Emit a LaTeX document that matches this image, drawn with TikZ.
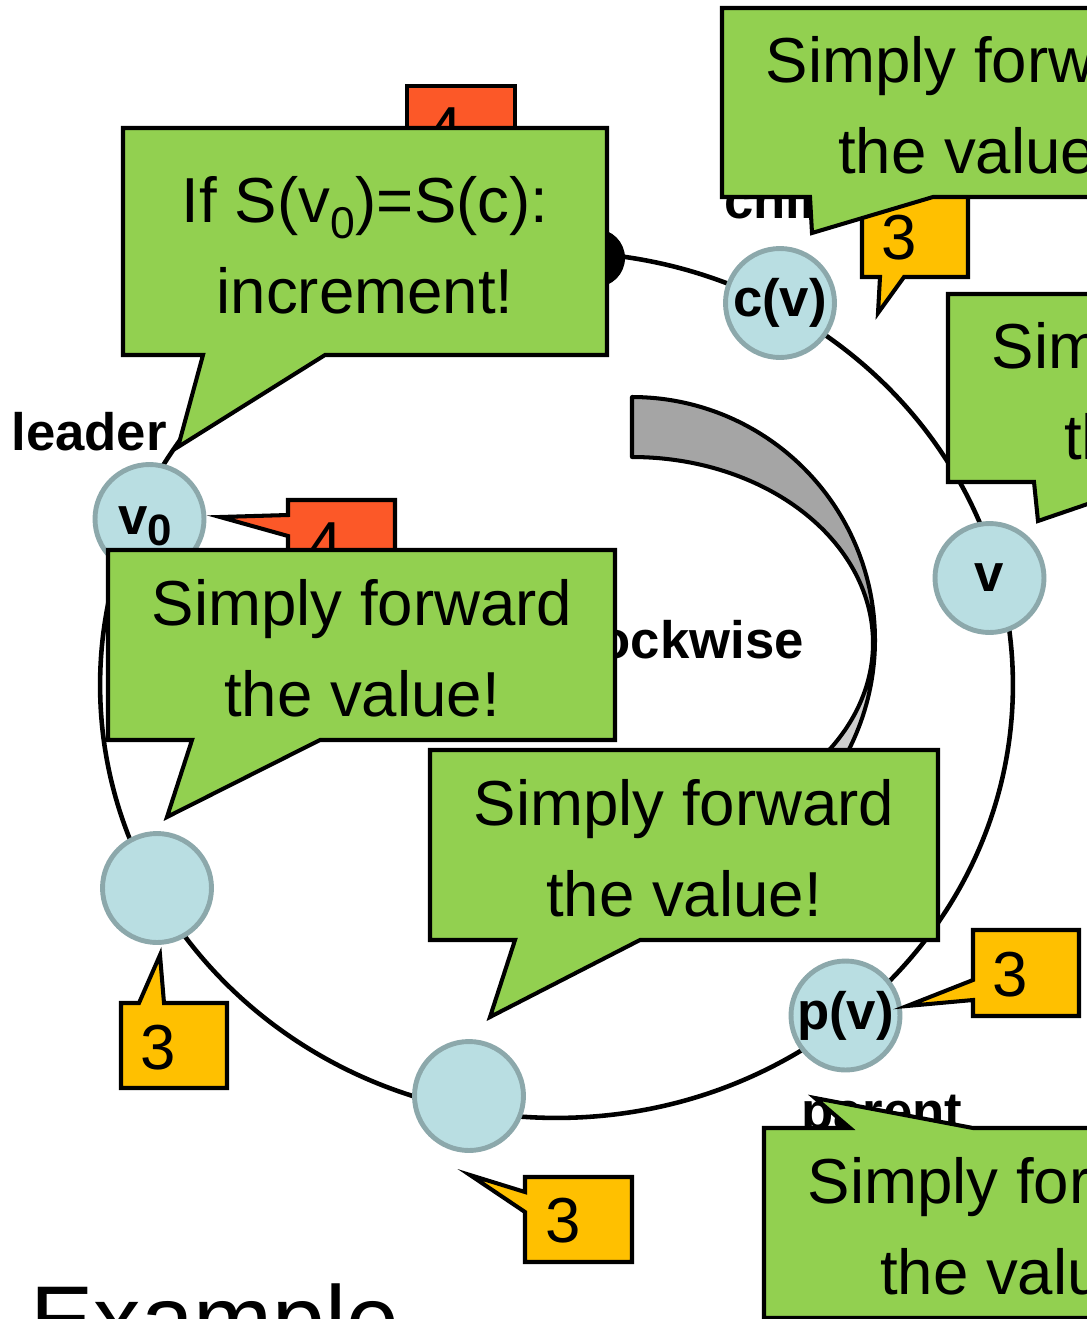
\documentclass[tikz,border=0pt]{standalone}
\usepackage{fontspec}
\setmainfont{Liberation Sans}
\definecolor{saygreen}{HTML}{92D050}
\definecolor{tagyellow}{HTML}{FFC000}
\definecolor{tagorange}{HTML}{FC5828}
\definecolor{ringfill}{HTML}{B9DEE2}
\definecolor{ringedge}{HTML}{8CA8AB}
\definecolor{arrowdark}{HTML}{A5A5A5}
\definecolor{arrowlight}{HTML}{CFCFCF}
\begin{document}
\begin{tikzpicture}[x=0.02cm,y=-0.02cm,
  ringline/.style={draw=black, line width=2.6pt},
  proc/.style={circle, fill=ringfill, draw=ringedge, line width=2.8pt,
    minimum size=2.18cm, inner sep=0pt,
    font=\bfseries\fontsize{30}{32}\selectfont},
  lbl/.style={inner sep=0pt, font=\bfseries\fontsize{30}{32}\selectfont},
  bubble/.style={fill=saygreen, draw=black, line width=2.3pt},
  tagy/.style={fill=tagyellow, draw=black, line width=2.3pt},
  tago/.style={fill=tagorange, draw=black, line width=2.3pt},
  saytext/.style={anchor=base, inner sep=0pt, font=\fontsize{36.2}{40}\selectfont},
  numtext/.style={inner sep=0pt, font=\fontsize{36.2}{40}\selectfont},
  band/.style={draw=black, line width=2.3pt, line join=round}]
\clip (0,0) rectangle (1087,1319);

% the ring
\draw[ringline] (556.5,685) ellipse [x radius=9.13cm, y radius=8.66cm];
\fill (596,258) circle [radius=0.58cm];

% twisted clockwise arrow
\filldraw[band, fill=arrowlight]
  plot[domain=0:45, samples=30, smooth] ({632+243*cos(\x)},{640+243*sin(\x)})
  -- plot[domain=45:0, samples=30, smooth] ({632+241*cos(\x)},{643+186*sin(\x)}) -- cycle;
\filldraw[band, fill=arrowdark]
  plot[domain=-90:0, samples=40, smooth] ({632+243*cos(\x)},{640+243*sin(\x)})
  -- plot[domain=0:-90, samples=40, smooth] ({632+241*cos(\x)},{643+186*sin(\x)}) -- cycle;

% labels
\node[lbl, anchor=base east] (cw) at (804,658) {clockwise};
\node[lbl, anchor=base west] (lead) at (11,450) {leader};
\node[lbl, anchor=base west] (chd) at (724,218) {child};
\node[lbl, anchor=base west] (par) at (801,1129) {parent};

% processes on the ring
\node[proc] (v0) at (149.5,519) {};
\node[lbl, anchor=base west] (v0t) at (118,534) {v\raisebox{-0.42ex}{\fontsize{25}{25}\selectfont 0}};
\node[proc] (cv) at (780,303) {c(v)};
\node[proc] (v) at (989.5,578) {v};
\node[proc] (pv) at (845.5,1015.5) {p(v)};
\node[proc] (u1) at (157,888) {};
\node[proc] (u2) at (469,1096) {};

% value tags
\filldraw[tago] (407,86) -- (515,86) -- (515,172) -- (407,172) -- cycle;
\node[numtext] (o1) at (445,130) {4};
\filldraw[tago] (288,500) -- (395,500) -- (395,585) -- (288,585) -- (288,536)
  -- (220,517) -- (288,515) -- cycle;
\node[numtext] (o2) at (325,545) {4};

\filldraw[tagy] (862,190) -- (968,190) -- (968,277) -- (904,277) -- (878,313)
  -- (880,277) -- (862,277) -- cycle;
\node[numtext] (y1) at (899,238) {3};
\filldraw[tagy] (973,930) -- (1079,930) -- (1079,1016) -- (973,1016) -- (973,1000)
  -- (907,1006) -- (973,980) -- cycle;
\node[numtext] (y2) at (1010,975) {3};
\filldraw[tagy] (121,1003) -- (139,1003) -- (160,955) -- (164,1003) -- (227,1003)
  -- (227,1088) -- (121,1088) -- cycle;
\node[numtext] (y3) at (158,1048) {3};
\filldraw[tagy] (525,1177) -- (632,1177) -- (632,1262) -- (525,1262) -- (525,1212)
  -- (470,1175) -- (525,1192) -- cycle;
\node[numtext] (y4) at (563,1221) {3};

% speech bubbles
\filldraw[bubble] (123,128) -- (607,128) -- (607,355) -- (325,355) -- (178,447)
  -- (203,355) -- (123,355) -- cycle;
\node[saytext] (s1a) at (365,222) {If S(v\textsubscript{0})=S(c):};
\node[saytext] (s1b) at (365,313) {increment!};

\filldraw[bubble] (108,550) -- (615,550) -- (615,740) -- (320,740) -- (167,817)
  -- (192,740) -- (108,740) -- cycle;
\node[saytext] (s2a) at (362,625) {Simply forward};
\node[saytext] (s2b) at (362,716) {the value!};

\filldraw[bubble] (430,750) -- (938,750) -- (938,940) -- (640,940) -- (490,1017)
  -- (515,940) -- (430,940) -- cycle;
\node[saytext] (s3a) at (684,825) {Simply forward};
\node[saytext] (s3b) at (684,916) {the value!};

\filldraw[bubble] (722,8) -- (1230,8) -- (1230,197) -- (933,197) -- (812,233)
  -- (810,197) -- (722,197) -- cycle;
\node[saytext] (s4a) at (976,82) {Simply forward};
\node[saytext] (s4b) at (976,173) {the value!};

\filldraw[bubble] (948,294) -- (1456,294) -- (1456,482) -- (1152,482) -- (1038,521)
  -- (1034,482) -- (948,482) -- cycle;
\node[saytext] (s5a) at (1202,368) {Simply forward};
\node[saytext] (s5b) at (1202,459) {the value!};

\filldraw[bubble] (764,1128) -- (850,1128) -- (815,1098) -- (973,1128) -- (1272,1128)
  -- (1272,1318) -- (764,1318) -- cycle;
\node[saytext] (s6a) at (1018,1203) {Simply forward};
\node[saytext] (s6b) at (1018,1294) {the value!};

% slide heading
\node[anchor=base west, inner sep=0pt, font=\fontsize{54}{60}\selectfont] (ttl) at (30,1352) {Example};
\end{tikzpicture}
\end{document}
